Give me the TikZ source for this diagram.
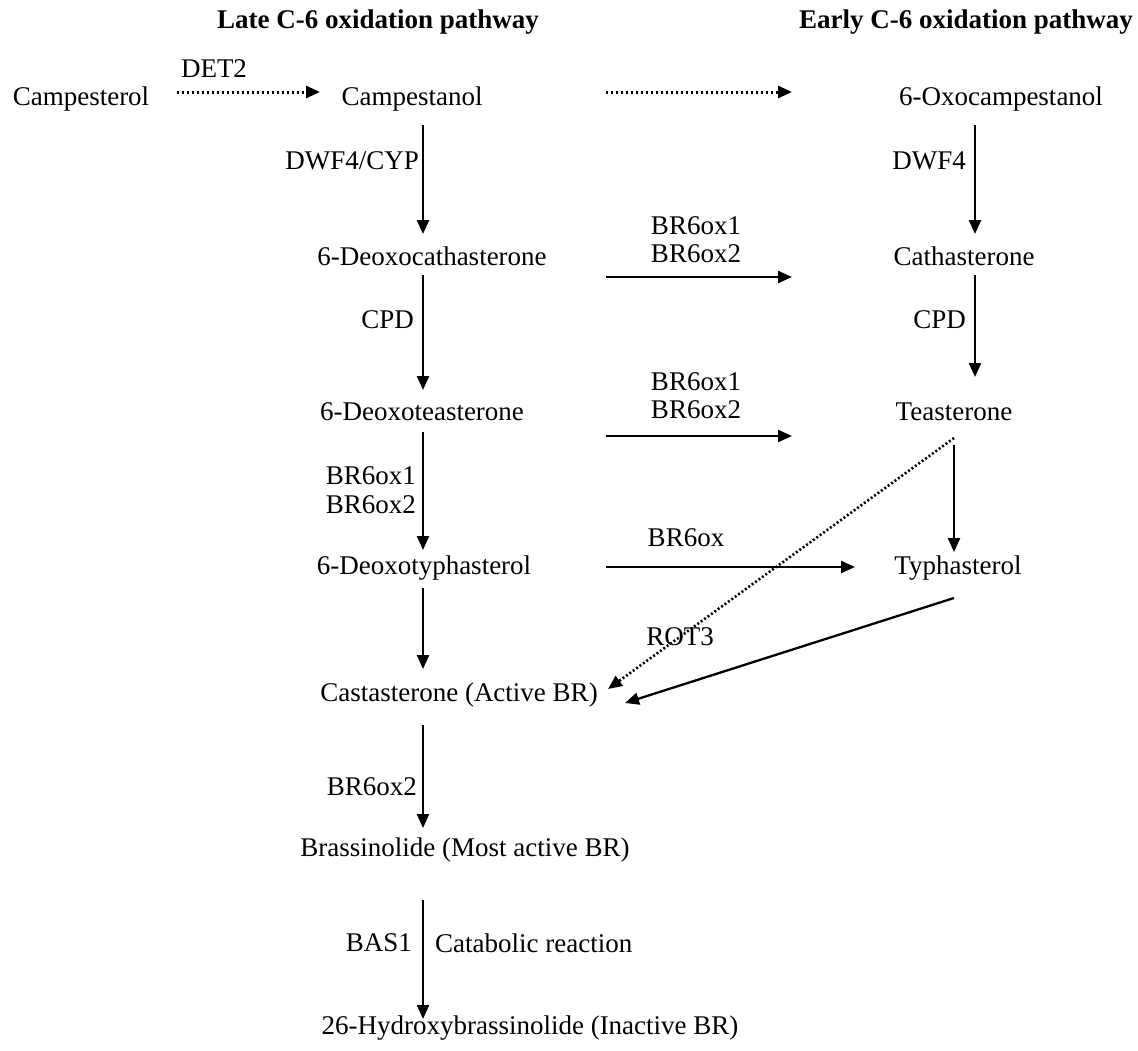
\documentclass[tikz,border=0pt]{standalone}
\usepackage{fontspec}
\setmainfont{Liberation Serif}
\usetikzlibrary{arrows.meta}
\begin{document}
\begin{tikzpicture}[x=1pt,y=-1pt,
  lbl/.style={font=\fontsize{27}{32}\selectfont, inner sep=0pt, anchor=center},
  lft/.style={lbl, anchor=east},
  rgt/.style={lbl, anchor=west},
  ttl/.style={font=\fontsize{27}{32}\selectfont\bfseries, inner sep=0pt, anchor=center},
  arr/.style={line width=2.3pt, -{Triangle[length=14pt,width=12pt]}},
  dotarr/.style={line width=3pt, dash pattern=on 2.4pt off 2.6pt, -{Triangle[length=14pt,width=12pt]}},
  fdot/.style={line width=2.6pt, dash pattern=on 2pt off 2.2pt, -{Triangle[length=14pt,width=12pt]}}]
\useasboundingbox (0,0) rectangle (1138,1050);
% titles
\node[ttl] (t1) at (378,22) {Late C-6 oxidation pathway};
\node[ttl] (t2) at (966,22) {Early C-6 oxidation pathway};
% compounds
\node[lbl] (campesterol) at (81,99) {Campesterol};
\node[lbl] (campestanol) at (412,99) {Campestanol};
\node[lbl] (oxocamp) at (1001,99) {6-Oxocampestanol};
\node[lbl] (deoxocath) at (432,256) {6-Deoxocathasterone};
\node[lbl] (cath) at (964,256) {Cathasterone};
\node[lbl] (deoxotea) at (422,412) {6-Deoxoteasterone};
\node[lbl] (tea) at (954,412) {Teasterone};
\node[lbl] (deoxotyph) at (424,568) {6-Deoxotyphasterol};
\node[lbl] (typh) at (958,568) {Typhasterol};
\node[lbl] (cast) at (459,695) {Castasterone (Active BR)};
\node[lbl] (brass) at (465,850) {Brassinolide (Most active BR)};
\node[lbl] (hydroxy) at (530,1028) {26-Hydroxybrassinolide (Inactive BR)};
% enzyme labels
\node[lbl] (det2) at (214,69) {DET2};
\node[lft] (dwfcyp) at (419,161) {DWF4/CYP};
\node[lft] (dwf4) at (966,161) {DWF4};
\node[lft] (cpd1) at (414,320) {CPD};
\node[lft] (cpd2) at (966,320) {CPD};
\node[lbl] (e1a) at (696,226) {BR6ox1};
\node[lbl] (e1b) at (696,254) {BR6ox2};
\node[lbl] (e2a) at (696,382) {BR6ox1};
\node[lbl] (e2b) at (696,410) {BR6ox2};
\node[lft] (e3a) at (416,476) {BR6ox1};
\node[lft] (e3b) at (416,505) {BR6ox2};
\node[lbl] (e4) at (686,538) {BR6ox};
\node[lbl] (rot3) at (680,637) {ROT3};
\node[lft] (e5) at (417,787) {BR6ox2};
\node[lft] (bas1) at (412,943) {BAS1};
\node[rgt] (catab) at (435,943) {Catabolic reaction};
% arrow end points
\coordinate (a1s) at (177,92);  \coordinate (a1e) at (320,92);
\coordinate (a2s) at (606,92);  \coordinate (a2e) at (792,92);
\coordinate (v1s) at (423,125); \coordinate (v1e) at (423,234);
\coordinate (w1s) at (975,125); \coordinate (w1e) at (975,234);
\coordinate (h1s) at (606,277); \coordinate (h1e) at (792,277);
\coordinate (v2s) at (423,275); \coordinate (v2e) at (423,390);
\coordinate (w2s) at (975,275); \coordinate (w2e) at (975,377);
\coordinate (h2s) at (606,436); \coordinate (h2e) at (792,436);
\coordinate (v3s) at (423,432); \coordinate (v3e) at (423,550);
\coordinate (w3s) at (954,445); \coordinate (w3e) at (954,552);
\coordinate (h3s) at (606,567); \coordinate (h3e) at (855,567);
\coordinate (d1s) at (954,438); \coordinate (d1e) at (608,689);
\coordinate (s1s) at (954,598); \coordinate (s1e) at (625,703);
\coordinate (v4s) at (423,588); \coordinate (v4e) at (423,669);
\coordinate (v5s) at (423,725); \coordinate (v5e) at (423,828);
\coordinate (v6s) at (423,900); \coordinate (v6e) at (423,1019);
% connectors
\draw[dotarr] (a1s) -- (a1e);
\draw[dotarr] (a2s) -- (a2e);
\draw[arr] (v1s) -- (v1e);
\draw[arr] (w1s) -- (w1e);
\draw[arr] (h1s) -- (h1e);
\draw[arr] (v2s) -- (v2e);
\draw[arr] (w2s) -- (w2e);
\draw[arr] (h2s) -- (h2e);
\draw[arr] (v3s) -- (v3e);
\draw[arr] (w3s) -- (w3e);
\draw[arr] (h3s) -- (h3e);
\draw[fdot] (d1s) -- (d1e);
\draw[arr] (s1s) -- (s1e);
\draw[arr] (v4s) -- (v4e);
\draw[arr] (v5s) -- (v5e);
\draw[arr] (v6s) -- (v6e);
\end{tikzpicture}
\end{document}
